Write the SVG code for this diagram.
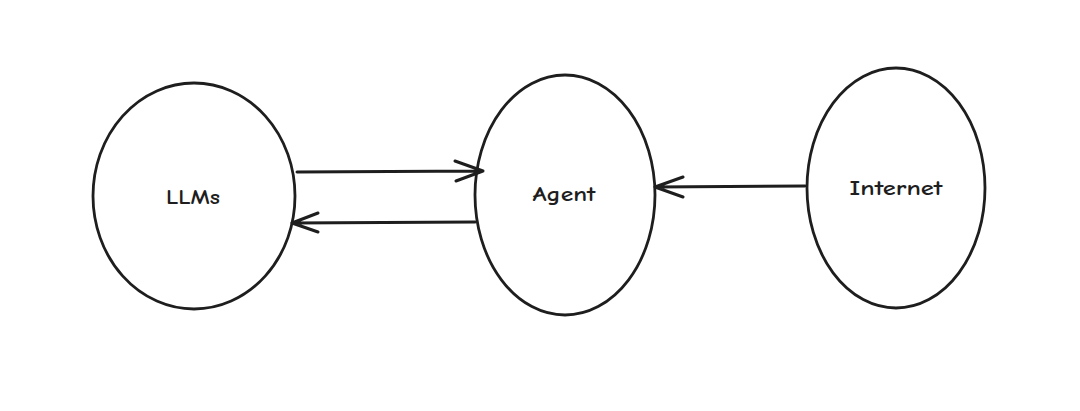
<svg xmlns="http://www.w3.org/2000/svg" width="1080" height="411" viewBox="0 0 1080 411">
<defs>
<style>
.node{fill:none;stroke:#1e1e1e;stroke-width:2.8}
.lbl{font-family:"Comic Neue","Liberation Sans",sans-serif;font-size:20px;font-weight:bold;fill:#1e1e1e;text-anchor:middle}
.edge{fill:none;stroke:#1e1e1e;stroke-width:3;stroke-linecap:round;stroke-linejoin:round}
</style>
</defs>
<rect width="1080" height="411" fill="#ffffff"/>
<g id="llms">
<ellipse class="node" cx="194" cy="196" rx="101" ry="113"/>
<text class="lbl" x="193" y="204" textLength="54" lengthAdjust="spacingAndGlyphs">LLMs</text>
</g>
<g id="agent">
<ellipse class="node" cx="565" cy="195" rx="90" ry="120"/>
<text class="lbl" x="564" y="201" textLength="63" lengthAdjust="spacingAndGlyphs">Agent</text>
</g>
<g id="internet">
<ellipse class="node" cx="896" cy="188" rx="89" ry="120"/>
<text class="lbl" x="896" y="195" textLength="93" lengthAdjust="spacingAndGlyphs">Internet</text>
</g>
<g id="connectors">
<path class="edge" d="M297 172 L483 171 M455 161 L483 171 L456 181"/>
<path class="edge" d="M475 222 L292 223 M318 213 L292 223 L318 232"/>
<path class="edge" d="M805 186 L655 187 M683 177 L655 187 L683 197"/>
</g>
</svg>
